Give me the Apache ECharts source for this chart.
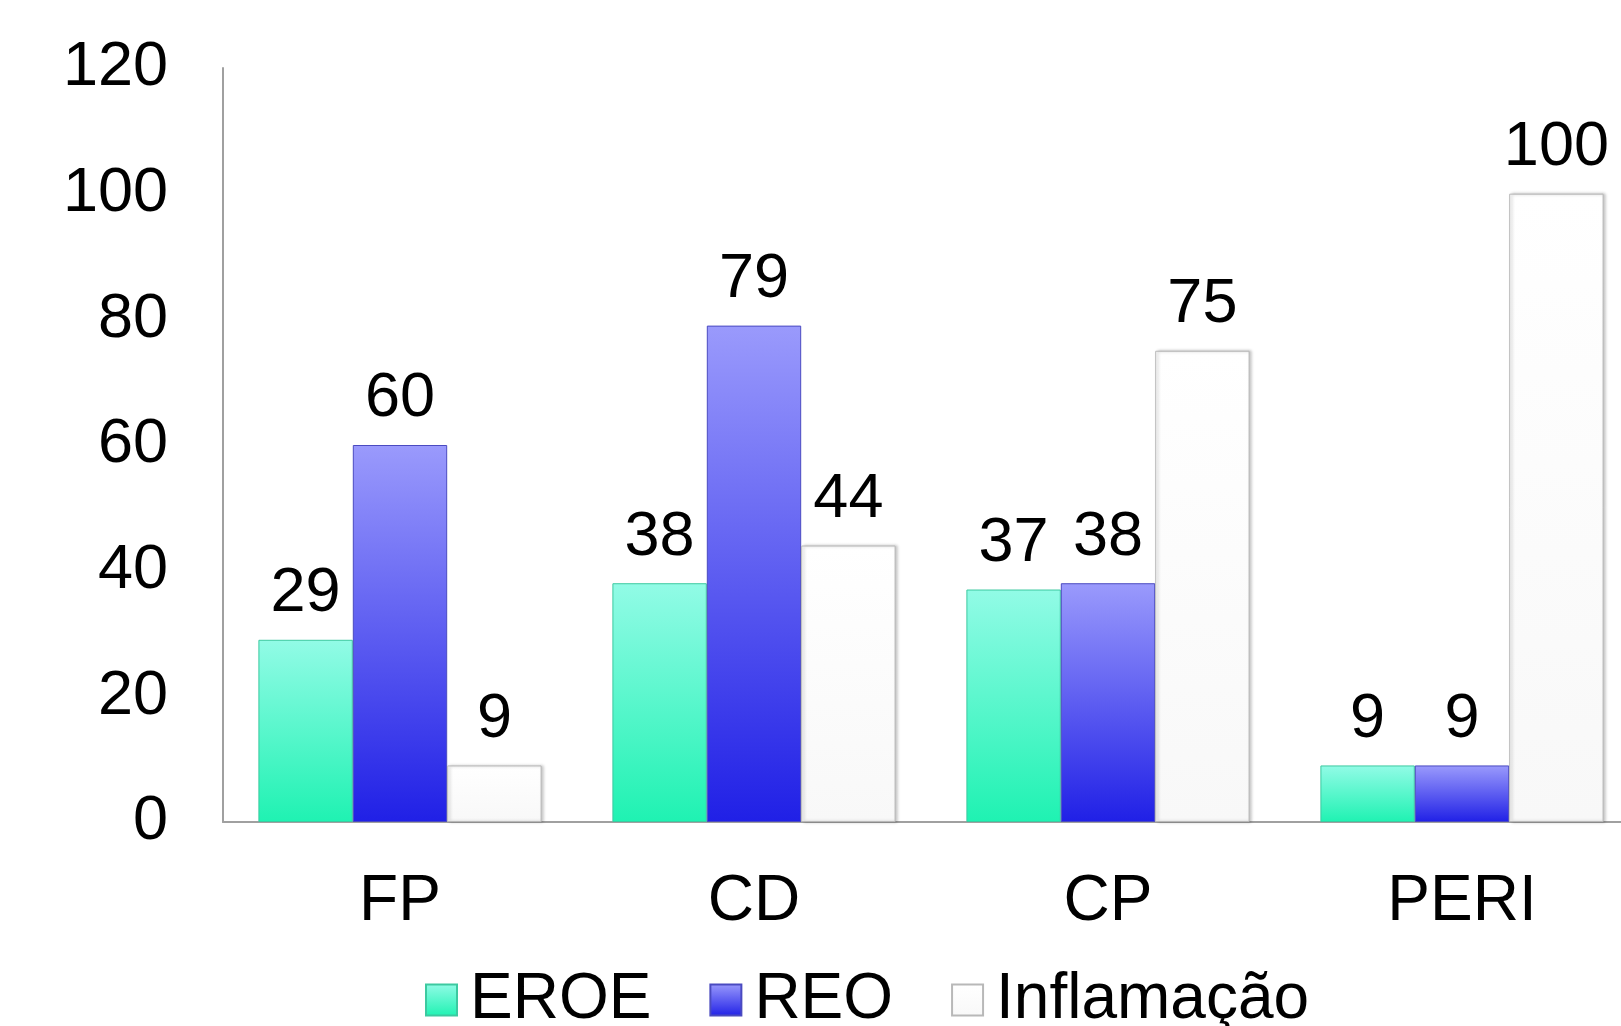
<!DOCTYPE html>
<html>
<head>
<meta charset="utf-8">
<script src="https://cdn.jsdelivr.net/npm/echarts@6/dist/echarts.min.js"></script>
<style>html,body{margin:0;padding:0;background:#fff;}#c{width:1621px;height:1026px;}</style>
</head>
<body>
<div id="c"></div>
<script>
const categories = ['FP', 'CD', 'CP', 'PERI'];
const eroe = [29, 38, 37, 9];
const reo = [60, 79, 38, 9];
const inflamacao = [9, 44, 75, 100];
const seriesNames = ['EROE', 'REO', 'Inflamação'];
const yTicks = { min: 0, max: 120, interval: 20 };

const FONT = '"Liberation Sans", Arial, sans-serif';
const grad = (top, bottom) => new echarts.graphic.LinearGradient(0, 0, 0, 1, [
  { offset: 0, color: top }, { offset: 1, color: bottom }
]);
const label = {
  show: true, position: 'top', distance: 14,
  fontFamily: FONT, fontSize: 63, color: '#000', lineHeight: 64
};
const chart = echarts.init(document.getElementById('c'));
chart.setOption({
  backgroundColor: '#fff',
  animation: false,
  grid: { left: 223, width: 1416, top: 68, height: 754, containLabel: false, outerBoundsMode: 'none' },
  legend: {
    top: 963, left: 420,
    icon: 'rect',
    itemWidth: 31, itemHeight: 31, itemGap: 58,
    textStyle: { fontFamily: FONT, fontSize: 64, color: '#000', padding: [0, 0, 0, 8] },
    data: seriesNames
  },
  xAxis: {
    type: 'category', data: categories,
    axisLine: { lineStyle: { color: '#a0a0a0', width: 2 } },
    axisTick: { show: false },
    axisLabel: { fontFamily: FONT, fontSize: 64, color: '#000', margin: 48 }
  },
  yAxis: {
    type: 'value', min: yTicks.min, max: yTicks.max, interval: yTicks.interval,
    axisLine: { show: true, lineStyle: { color: '#a0a0a0', width: 2 } },
    axisTick: { show: false },
    splitLine: { show: false },
    axisLabel: { fontFamily: FONT, fontSize: 63, color: '#000', margin: 55 }
  },
  series: [
    {
      name: seriesNames[0], type: 'bar', data: eroe,
      barGap: '0%', barCategoryGap: '20%',
      itemStyle: { color: grad('#92fbe6', '#1ff2b2'), borderColor: '#3cc9a0', borderWidth: 1 },
      label
    },
    {
      name: seriesNames[1], type: 'bar', data: reo,
      itemStyle: { color: grad('#9a9afc', '#2020e6'), borderColor: '#4a4ac0', borderWidth: 1 },
      label
    },
    {
      name: seriesNames[2], type: 'bar', data: inflamacao,
      itemStyle: { color: grad('#ffffff', '#f8f8f8'), borderColor: '#b8b8b8', borderWidth: 1,
        shadowColor: 'rgba(0,0,0,0.25)', shadowBlur: 3, shadowOffsetX: 2 },
      label
    }
  ]
});
</script>
</body>
</html>
